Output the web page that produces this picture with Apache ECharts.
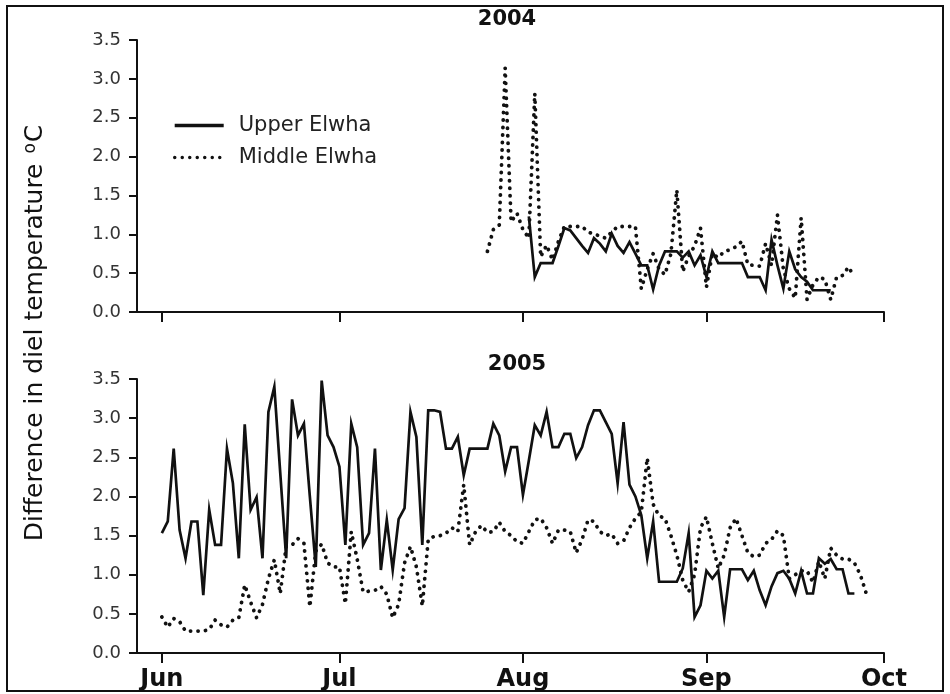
<!DOCTYPE html>
<html><head><meta charset="utf-8">
<script src="https://cdn.jsdelivr.net/npm/echarts@6/dist/echarts.min.js"></script>
<style>html,body{margin:0;padding:0;background:#fff}#c{width:950px;height:694px}</style>
</head><body><div id="c"></div>
<script>
// x = day index counted from 1 June of each year
const monthTicks = [0, 30, 61, 92, 122];
const monthLabels = ['Jun', 'Jul', 'Aug', 'Sep', 'Oct'];
const panelTitles = ['2004', '2005'];
const seriesNames = ['Upper Elwha', 'Middle Elwha'];

const upper2004Start = 62;
const upper2004 = [1.23,0.45,0.63,0.63,0.63,0.85,1.08,1.05,0.95,0.85,0.76,0.95,0.88,0.78,1.01,0.85,0.76,0.90,0.75,0.60,0.60,0.29,0.60,0.78,0.78,0.78,0.70,0.78,0.60,0.73,0.45,0.78,0.63,0.63,0.63,0.63,0.63,0.45,0.45,0.45,0.28,0.93,0.60,0.30,0.78,0.55,0.45,0.39,0.28,0.28,0.28,0.28];

const middle2004Start = 55;
const middle2004 = [0.78,1.06,1.12,3.14,1.16,1.27,1.06,0.95,2.81,0.71,0.86,0.67,0.91,1.10,1.10,1.10,1.10,1.03,1.00,0.98,0.95,1.03,1.10,1.10,1.10,1.10,0.30,0.55,0.75,0.55,0.48,0.75,1.57,0.52,0.72,0.85,1.08,0.32,0.75,0.70,0.78,0.80,0.84,0.91,0.61,0.60,0.59,0.88,0.60,1.25,0.55,0.30,0.18,1.21,0.16,0.35,0.45,0.42,0.16,0.45,0.47,0.58,0.45];

const upper2005Start = 0;
const upper2005 = [1.53,1.68,2.61,1.57,1.21,1.68,1.68,0.74,1.83,1.38,1.38,2.61,2.17,1.21,2.92,1.83,1.99,1.21,3.08,3.40,2.30,1.21,3.24,2.78,2.93,2.00,1.10,3.48,2.78,2.63,2.38,1.38,2.93,2.63,1.38,1.53,2.61,1.06,1.70,1.06,1.71,1.85,3.08,2.76,1.38,3.10,3.10,3.08,2.61,2.61,2.76,2.27,2.61,2.61,2.61,2.61,2.93,2.78,2.32,2.63,2.63,2.02,2.46,2.91,2.78,3.08,2.63,2.63,2.80,2.80,2.49,2.63,2.91,3.10,3.10,2.95,2.80,2.17,2.95,2.15,2.00,1.76,1.21,1.68,0.91,0.91,0.91,0.91,1.08,1.53,0.46,0.61,1.05,0.95,1.05,0.46,1.07,1.07,1.07,0.93,1.05,0.80,0.61,0.85,1.02,1.05,0.95,0.76,1.05,0.76,0.76,1.21,1.14,1.20,1.07,1.07,0.76,0.76];

const middle2005Start = 0;
const middle2005 = [0.46,0.33,0.44,0.40,0.28,0.28,0.28,0.28,0.30,0.42,0.36,0.33,0.42,0.45,0.87,0.65,0.45,0.62,0.95,1.19,0.76,1.36,1.38,1.46,1.40,0.59,1.30,1.39,1.15,1.10,1.10,0.63,1.55,1.20,0.78,0.79,0.80,0.85,0.75,0.45,0.62,1.15,1.36,1.10,0.60,1.45,1.49,1.50,1.53,1.60,1.55,2.15,1.38,1.55,1.63,1.54,1.55,1.67,1.55,1.50,1.42,1.40,1.55,1.70,1.72,1.60,1.40,1.57,1.57,1.55,1.28,1.45,1.70,1.68,1.55,1.50,1.52,1.40,1.43,1.60,1.72,1.80,2.49,1.90,1.75,1.72,1.50,1.25,0.93,0.78,1.00,1.60,1.74,1.40,1.08,1.25,1.60,1.72,1.50,1.28,1.23,1.25,1.40,1.45,1.56,1.50,0.95,1.00,1.05,1.05,0.90,1.17,0.95,1.34,1.25,1.20,1.20,1.15,1.00,0.76];

function pts(start, vals) { return vals.map((v, i) => [start + i, v]); }

const FONT = '"DejaVu Sans", Verdana, sans-serif';
const chart = echarts.init(document.getElementById('c'), null, {renderer: 'canvas'});

function xAxis(gi, showLabels) {
  return {
    type: 'value', gridIndex: gi, min: -4.2, max: 122,
    axisLine: {show: true, onZero: false, lineStyle: {color: '#111', width: 2}},
    axisTick: {show: true, customValues: monthTicks, length: 10, lineStyle: {color: '#111', width: 2}},
    axisLabel: {show: showLabels, customValues: monthTicks, margin: 15,
      fontFamily: FONT, fontWeight: 'bold', fontSize: 24, color: '#111',
      formatter: v => monthLabels[monthTicks.indexOf(v)]},
    splitLine: {show: false}
  };
}
function yAxis(gi) {
  return {
    type: 'value', gridIndex: gi, min: 0, max: 3.5, interval: 0.5,
    axisLine: {show: true, onZero: false, lineStyle: {color: '#111', width: 2}},
    axisTick: {show: true, length: 8, lineStyle: {color: '#111', width: 2}},
    axisLabel: {margin: 16, fontFamily: FONT, fontSize: 18, color: '#333', formatter: v => v.toFixed(1)},
    splitLine: {show: false}
  };
}
const solidStyle = {color: '#111', width: 2.7, join: 'miter'};
const dotStyle = {color: '#111', width: 3.8, type: [0.1, 7.4], cap: 'round', join: 'round'};
function line(name, gi, data, style) {
  return {type: 'line', name: name, xAxisIndex: gi, yAxisIndex: gi, data: data,
    symbol: 'none', lineStyle: style, itemStyle: {color: '#111'}, animation: false, silent: true};
}

chart.setOption({
  animation: false,
  backgroundColor: '#fff',
  grid: [
    {left: 137, top: 40, width: 747, height: 272, outerBoundsMode: 'none', containLabel: false},
    {left: 137, top: 379, width: 747, height: 274, outerBoundsMode: 'none', containLabel: false}
  ],
  xAxis: [xAxis(0, false), xAxis(1, true)],
  yAxis: [yAxis(0), yAxis(1)],
  legend: {
    orient: 'vertical', left: 173, top: 115, padding: 0, itemWidth: 49, itemHeight: 14, itemGap: 11,
    data: seriesNames, selectedMode: false,
    itemStyle: {opacity: 0},
    lineStyle: {width: 3.4},
    textStyle: {fontFamily: FONT, fontSize: 21, color: '#222', padding: [0, 0, 0, 10]}
  },
  series: [
    line(seriesNames[0], 0, pts(upper2004Start, upper2004), solidStyle),
    line(seriesNames[1], 0, pts(middle2004Start, middle2004), dotStyle),
    line(seriesNames[0], 1, pts(upper2005Start, upper2005), solidStyle),
    line(seriesNames[1], 1, pts(middle2005Start, middle2005), dotStyle)
  ],
  graphic: [
    {type: 'rect', shape: {x: 7, y: 6, width: 936, height: 685}, style: {fill: 'none', stroke: '#111', lineWidth: 2}, silent: true},
    {type: 'text', x: 507, y: 20, style: {text: panelTitles[0], font: 'bold 21px ' + FONT, fill: '#111', align: 'center', verticalAlign: 'middle'}},
    {type: 'text', x: 517, y: 365, style: {text: panelTitles[1], font: 'bold 21px ' + FONT, fill: '#111', align: 'center', verticalAlign: 'middle'}},
    {type: 'text', x: 35, y: 333, rotation: Math.PI / 2,
      style: {text: '{n|Difference in diel temperature }{s|o}{n|C}', align: 'center', verticalAlign: 'middle', fill: '#111',
        rich: {n: {fontFamily: FONT, fontSize: 25, fill: '#111'}, s: {fontFamily: FONT, fontSize: 17, fill: '#111', verticalAlign: 'top', padding: [0, 1, 9, 2]}}}}
  ]
});
</script></body></html>
